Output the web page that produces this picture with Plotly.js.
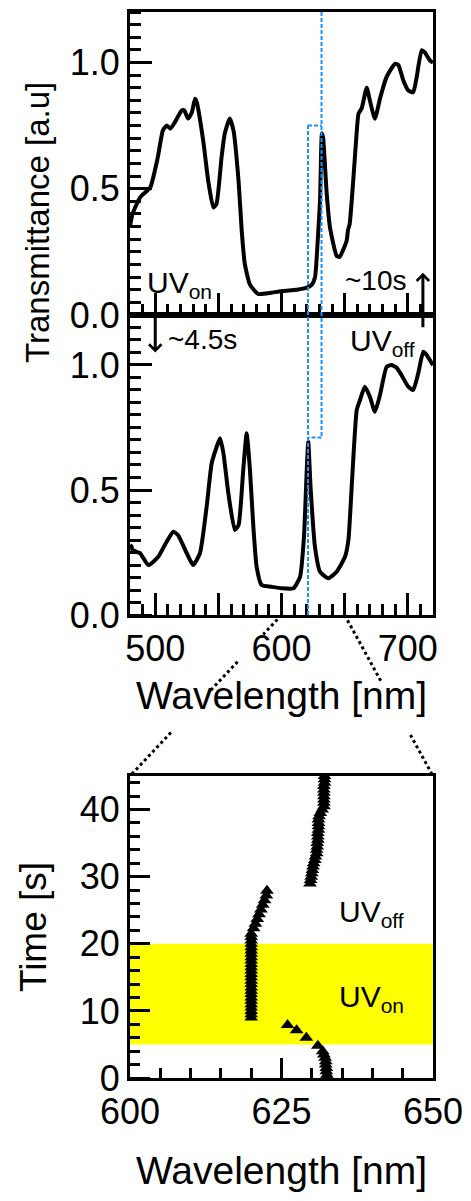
<!DOCTYPE html>
<html>
<head>
<meta charset="utf-8">
<script src="https://cdn.plot.ly/plotly-3.0.1.min.js"></script>
<style>html,body{margin:0;padding:0;background:#fff;}#chart{width:471px;height:1201px;}</style>
</head>
<body>
<div id="chart"></div>
<script>
// ---- UV-on spectrum (top panel) ----
const wlOn = [480,482,488,496,502,506,509,512,515.5,521,523,526,529,531.5,533,538,542,546,548.5,552.5,555,559,562,566,568.5,571,575,581.5,592,601,612,620,624,626.5,629,630.5,632,633,635.8,638.4,643.7,646,651.6,652.7,654,657,659.5,661,663.6,667.5,670,674,678,683,686,690,692.6,696.5,700.5,704.3,707,711,713.5,717.6,720];
const tOn = [0.35,0.40,0.466,0.505,0.624,0.73,0.75,0.738,0.763,0.81,0.81,0.778,0.803,0.856,0.84,0.69,0.53,0.426,0.44,0.624,0.717,0.778,0.73,0.53,0.333,0.2,0.12,0.083,0.088,0.095,0.10,0.108,0.12,0.148,0.32,0.45,0.72,0.70,0.48,0.347,0.234,0.23,0.294,0.337,0.36,0.545,0.72,0.797,0.82,0.90,0.849,0.777,0.857,0.94,0.968,0.995,0.99,0.929,0.889,0.882,0.94,1.048,1.04,1.008,1.0];
// ---- UV-off spectrum (middle panel) ----
const wlOff = [480,481.3,482,488,494.5,502.4,509,514.3,518,525,530,535.4,540.7,544.7,548.7,551.3,554,557.9,563,566,569.7,572.4,575,577.7,580.3,584.3,592,600,609.4,614.7,617.8,620,621.2,623,626.5,630.5,637,643.7,650.3,653,655.6,659.6,662.2,666,670,674,678,683.3,687,691,695,700.4,704.3,708.3,712.3,715,719,720];
const tOff = [0.28,0.273,0.26,0.247,0.2,0.233,0.293,0.333,0.32,0.247,0.2,0.247,0.433,0.607,0.673,0.707,0.647,0.487,0.34,0.36,0.58,0.727,0.58,0.353,0.193,0.12,0.113,0.107,0.107,0.153,0.313,0.58,0.693,0.513,0.273,0.173,0.147,0.173,0.233,0.3,0.513,0.82,0.86,0.913,0.873,0.813,0.88,0.993,1.0,0.99,0.96,0.913,0.9,0.967,1.053,1.04,1.007,1.0];
// ---- peak wavelength vs time (bottom panel) ----
const peakTime = [0,0.5,1,1.5,2,2.5,3,3.5,4,4.8,6.0,7.1,7.9,
  9,9.5,10,10.5,11,11.5,12,12.5,13,13.5,14,14.5,15,15.5,16,16.5,17,17.5,18,18.5,19,19.5,20,20.5,21,21.5,
  22.3,23.0,23.7,24.4,25.1,25.8,26.5,27.2,27.9,
  29,29.5,30,30.5,31,31.5,32,32.5,33,33.5,34,34.5,35,35.5,36,36.5,37,37.5,38,38.5,39,39.5,40,40.5,41,41.5,42,42.5,43,43.5,44,44.5,45];
const peakWl = [632.5,632.5,632.4,632.4,632.3,632.3,632.2,632.0,631.8,631.0,629.1,627.5,626.0,
  620.0,620.0,620.0,620.0,620.0,620.0,620.0,620.0,620.0,620.0,620.0,620.0,620.0,620.0,620.0,620.0,620.0,620.0,620.0,620.0,620.0,620.0,620.0,620.0,620.0,620.0,
  620.4,620.7,621.0,621.3,621.6,621.9,622.2,622.5,622.6,
  629.7,629.8,629.9,630.0,630.1,630.2,630.3,630.5,630.6,630.8,630.8,630.9,630.9,631.0,631.0,631.0,631.1,631.1,631.1,631.1,631.2,631.4,631.7,632.0,632.0,632.0,632.0,632.0,632.0,632.0,632.1,632.1,632.1];
const uvBand = [5, 20];
const peakOn = 631.7, peakOff = 621.0;
const levelOn = 0.75, levelOff = 0.71;
const tTicks = [0, 0.5, 1.0], tTickText = ['0.0', '0.5', '1.0'];
const sTicks = [0, 10, 20, 30, 40];
const wTicks = [500, 550, 600, 650, 700], wTickText = ['500', '', '600', '', '700'];

const FONT = 'Liberation Sans, Arial, Helvetica, sans-serif';
const BLUE = '#1f8fff';
const PLOT_W = 303; // plot-area width in px (471 - 130 - 38)
const domTop = [0.7158, 1.0], domMid = [0.4343, 0.7158], domBot = [0, 0.2833];
const rangeT = [0, 1.2], rangeW = [480, 720], rangeZ = [600, 650], rangeS = [0, 45];
const pY = (dom, rng, v) => dom[0] + (v - rng[0]) / (rng[1] - rng[0]) * (dom[1] - dom[0]);
const pX = (rng, v) => (v - rng[0]) / (rng[1] - rng[0]);

const traces = [
  {x: wlOn, y: tOn, xaxis: 'x', yaxis: 'y', mode: 'lines', line: {color: '#000', width: 4, shape: 'spline', smoothing: 0.5}, hoverinfo: 'skip'},
  {x: wlOff, y: tOff, xaxis: 'x2', yaxis: 'y2', mode: 'lines', line: {color: '#000', width: 4, shape: 'spline', smoothing: 0.5}, hoverinfo: 'skip'},
  {x: peakWl, y: peakTime, xaxis: 'x3', yaxis: 'y3', mode: 'markers',
   marker: {symbol: 'triangle-up', size: 12, color: '#000'}, hoverinfo: 'skip'}
];
// carriers (draw nothing) for the helper tick axes
[['x', 'y4', wlOn, tOn], ['x2', 'y5', wlOff, tOff], ['x3', 'y6', peakWl, peakTime],
 ['x', 'y7', wlOn, tOn], ['x2', 'y8', wlOff, tOff], ['x3', 'y9', peakWl, peakTime]].forEach(c =>
  traces.push({x: c[2], y: c[3], xaxis: c[0], yaxis: c[1], mode: 'none', hoverinfo: 'skip'}));

const tickFont = {family: FONT, size: 36, color: '#000'};
const frame = {showline: true, mirror: true, linecolor: '#000', linewidth: 3, zeroline: false, showgrid: false};
const minorW = {dtick: 10, ticks: 'inside', ticklen: 11, tickwidth: 3, tickcolor: '#000'};

const xTop = Object.assign({}, frame, {domain: [0, 1], anchor: 'y', range: rangeW, showticklabels: false,
  ticks: 'inside', ticklen: 22, tickwidth: 3, tickcolor: '#000', tickfont: tickFont,
  tickmode: 'array', tickvals: wTicks, minor: minorW});
const xMid = Object.assign({}, frame, {domain: [0, 1], anchor: 'y2', range: rangeW,
  ticks: 'inside', ticklen: 22, tickwidth: 3, tickcolor: '#000', tickfont: tickFont,
  tickmode: 'array', tickvals: wTicks, ticktext: wTickText, minor: minorW,
  title: {text: 'Wavelength [nm]', font: {family: FONT, size: 39, color: '#000'}, standoff: 14}});
const xBot = Object.assign({}, frame, {domain: [0, 1], anchor: 'y3', range: rangeZ,
  ticks: 'inside', ticklen: 20, tickwidth: 3, tickcolor: '#000', tickfont: tickFont,
  tickmode: 'linear', tick0: 600, dtick: 25,
  minor: {dtick: 5, ticks: 'inside', ticklen: 10, tickwidth: 3, tickcolor: '#000'},
  title: {text: 'Wavelength [nm]', font: {family: FONT, size: 39, color: '#000'}, standoff: 26}});

const yTop = Object.assign({}, frame, {domain: domTop, anchor: 'x', range: rangeT,
  ticks: 'inside', ticklen: 22, tickwidth: 3, tickcolor: '#000', tickfont: tickFont,
  tickmode: 'array', tickvals: tTicks, ticktext: tTickText,
  minor: {dtick: 0.05, ticks: 'inside', ticklen: 11, tickwidth: 3, tickcolor: '#000'}});
const yMid = Object.assign({}, frame, {domain: domMid, anchor: 'x2', range: rangeT,
  ticks: 'inside', ticklen: 22, tickwidth: 3, tickcolor: '#000', tickfont: tickFont,
  tickmode: 'array', tickvals: tTicks, ticktext: tTickText,
  minor: {dtick: 0.05, ticks: 'inside', ticklen: 11, tickwidth: 3, tickcolor: '#000'}});
const yBot = Object.assign({}, frame, {domain: domBot, anchor: 'x3', range: rangeS,
  ticks: 'inside', ticklen: 20, tickwidth: 3, tickcolor: '#000', tickfont: tickFont,
  tickmode: 'array', tickvals: sTicks,
  minor: {dtick: 2, ticks: 'inside', ticklen: 10, tickwidth: 3, tickcolor: '#000'},
  title: {text: 'Time [s]', font: {family: FONT, size: 37, color: '#000'}, standoff: 22}});

// helper axes: line placed `len` px inside the frame, outside ticks reach back to the frame
function tickAxisArr(over, rng, vals, len) {
  return {overlaying: over, side: 'left', anchor: 'free', position: len / PLOT_W, range: rng,
    showline: false, showgrid: false, zeroline: false, showticklabels: false,
    ticks: 'outside', ticklen: len, tickwidth: 3, tickcolor: '#000', tickmode: 'array', tickvals: vals};
}
function tickAxisLin(over, rng, dt, len) {
  return {overlaying: over, side: 'left', anchor: 'free', position: len / PLOT_W, range: rng,
    showline: false, showgrid: false, zeroline: false, showticklabels: false,
    ticks: 'outside', ticklen: len, tickwidth: 3, tickcolor: '#000', tickmode: 'linear', tick0: rng[0], dtick: dt};
}
const y4 = tickAxisArr('y', rangeT, tTicks, 22);
const y5 = tickAxisArr('y2', rangeT, tTicks, 22);
const y6 = tickAxisArr('y3', rangeS, sTicks, 20);
const y7 = tickAxisLin('y', rangeT, 0.05, 11);
const y8 = tickAxisLin('y2', rangeT, 0.05, 11);
const y9 = tickAxisLin('y3', rangeS, 2, 10);

const shapes = [];
function dottedConnector(xa, xb, segs) {
  const x0 = pX(rangeW, xa), y0 = domMid[0];
  const x1 = pX(rangeZ, xb), y1 = domBot[1];
  segs.forEach(s => shapes.push({type: 'line', xref: 'paper', yref: 'paper',
    x0: x0 + (x1 - x0) * s[0], y0: y0 + (y1 - y0) * s[0],
    x1: x0 + (x1 - x0) * s[1], y1: y0 + (y1 - y0) * s[1],
    line: {color: '#000', width: 3, dash: 'dot'}}));
}
dottedConnector(rangeZ[0], rangeZ[0], [[0, 0.12], [0.29, 0.47], [0.73, 1]]);
dottedConnector(rangeZ[1], rangeZ[1], [[0, 0.42], [0.745, 1]]);
shapes.push({type: 'rect', xref: 'x3 domain', yref: 'y3', x0: 0, x1: 1, y0: uvBand[0], y1: uvBand[1],
  fillcolor: '#ffff00', line: {width: 0}, layer: 'below'});
const bl = {color: BLUE, width: 2, dash: '4px,2px'};
shapes.push({type: 'line', xref: 'x', yref: 'paper', x0: peakOn, x1: peakOn, y0: domTop[1], y1: pY(domMid, rangeT, levelOff), line: bl});
shapes.push({type: 'line', xref: 'x2', yref: 'y2', x0: peakOn, x1: peakOff, y0: levelOff, y1: levelOff, line: bl});
shapes.push({type: 'line', xref: 'x', yref: 'paper', x0: peakOff, x1: peakOff, y0: domMid[0], y1: pY(domTop, rangeT, levelOn), line: bl});
shapes.push({type: 'line', xref: 'x', yref: 'y', x0: peakOff, x1: peakOn, y0: levelOn, y1: levelOn, line: bl});

const tf = (s) => ({family: FONT, size: s, color: '#000'});
const annotations = [
  {xref: 'paper', yref: 'paper', x: -0.307, y: 0.803, text: 'Transmittance [a.u]', textangle: -90,
   showarrow: false, font: tf(33), xanchor: 'center', yanchor: 'middle'},
  {xref: 'x', yref: 'y', x: peakOn, y: levelOn, ax: peakOn - 1.5, ay: levelOn, axref: 'x', ayref: 'y', text: '',
   showarrow: true, arrowhead: 2, arrowsize: 1, arrowwidth: 2, arrowcolor: BLUE, standoff: 0},
  {xref: 'x2', yref: 'y2', x: peakOff, y: levelOff, ax: peakOff + 1.5, ay: levelOff, axref: 'x2', ayref: 'y2', text: '',
   showarrow: true, arrowhead: 2, arrowsize: 1, arrowwidth: 2, arrowcolor: BLUE, standoff: 0},
  {xref: 'x', yref: 'y', x: 712, y: 0.167, ax: 0, ay: 56, text: '', showarrow: true,
   arrowhead: 4, arrowsize: 0.8, arrowwidth: 3, arrowcolor: '#000', standoff: 0},
  {xref: 'x2', yref: 'y2', x: 500, y: 1.05, ax: 0, ay: -38, text: '', showarrow: true,
   arrowhead: 4, arrowsize: 0.8, arrowwidth: 3, arrowcolor: '#000', standoff: 0},
  {xref: 'x', yref: 'y', x: 701, y: 0.135, text: '~10s', showarrow: false, font: tf(28), xanchor: 'right', yanchor: 'middle'},
  {xref: 'x2', yref: 'y2', x: 508.5, y: 1.1, text: '~4.5s', showarrow: false, font: tf(28), xanchor: 'left', yanchor: 'middle'},
  {xref: 'x', yref: 'y', x: 492, y: 0.12, text: 'UV<sub>on</sub>', showarrow: false, font: tf(30), xanchor: 'left', yanchor: 'middle'},
  {xref: 'x2', yref: 'y2', x: 707.5, y: 1.09, text: 'UV<sub>off</sub>', showarrow: false, font: tf(30), xanchor: 'right', yanchor: 'middle'},
  {xref: 'x3', yref: 'y3', x: 634.2, y: 24.5, text: 'UV<sub>off</sub>', showarrow: false, font: tf(30), xanchor: 'left', yanchor: 'middle'},
  {xref: 'x3', yref: 'y3', x: 634.2, y: 11.8, text: 'UV<sub>on</sub>', showarrow: false, font: tf(30), xanchor: 'left', yanchor: 'middle'}
];
const layout = {
  width: 471, height: 1201, margin: {l: 130, r: 38, t: 12, b: 123},
  paper_bgcolor: '#fff', plot_bgcolor: '#fff', showlegend: false,
  xaxis: xTop, xaxis2: xMid, xaxis3: xBot, yaxis: yTop, yaxis2: yMid, yaxis3: yBot,
  yaxis4: y4, yaxis5: y5, yaxis6: y6, yaxis7: y7, yaxis8: y8, yaxis9: y9,
  shapes: shapes, annotations: annotations
};
Plotly.newPlot('chart', traces, layout, {displayModeBar: false});
</script>
</body>
</html>
